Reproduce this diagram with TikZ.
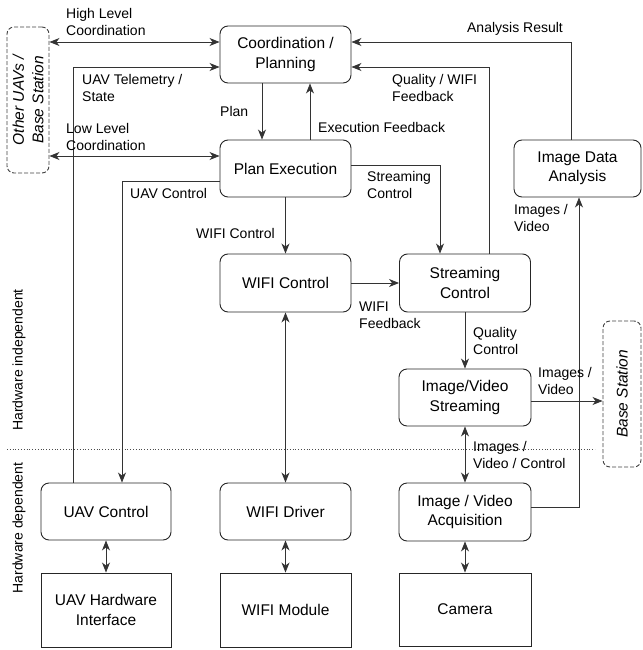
\documentclass[tikz,border=0pt]{standalone}
\usepackage{fontspec}
\setmainfont{Liberation Sans}
\usetikzlibrary{arrows.meta,calc}
\begin{document}
\begin{tikzpicture}[x=1pt,y=-1pt,
  box/.style={draw=black!85,line width=0.9pt,rounded corners=8pt,align=center,
    font=\fontsize{15.5}{19.5}\selectfont,inner sep=0pt},
  hwbox/.style={draw=black!85,line width=0.9pt,align=center,
    font=\fontsize{15.5}{19.5}\selectfont,inner sep=0pt},
  extbox/.style={draw=black!75,dash pattern=on 4pt off 2pt,line width=0.9pt,rounded corners=7pt,align=center,
    font=\fontsize{15.5}{19.5}\selectfont\itshape,inner sep=0pt},
  lbl/.style={font=\fontsize{14}{17.5}\selectfont,align=left,inner sep=0pt,anchor=west},
  conn/.style={draw=black!80,line width=0.9pt},
  arr/.style={conn,-{Stealth[length=10pt,width=8pt,inset=3pt]}},
  dbl/.style={conn,{Stealth[length=10pt,width=8pt,inset=3pt]}-{Stealth[length=10pt,width=8pt,inset=3pt]}}
]
\useasboundingbox (0,0) rectangle (642,650);

% boxes
\node[box,minimum width=131pt,minimum height=57pt] (cp) at (285.5,54.5) {Coordination /\\Planning};
\node[box,minimum width=131pt,minimum height=57pt] (pe) at (285.5,168.5) {Plan Execution};
\node[box,minimum width=127pt,minimum height=57pt] (ida) at (577.5,168.5) {Image Data\\Analysis};
\node[box,minimum width=131pt,minimum height=58pt] (wc) at (285.5,283) {WIFI Control};
\node[box,minimum width=131pt,minimum height=58pt] (sc) at (465,283) {Streaming\\Control};
\node[box,minimum width=132pt,minimum height=57pt] (ivs) at (465,397.5) {Image/Video\\Streaming};
\node[box,minimum width=132pt,minimum height=58pt] (iva) at (465,512) {Image / Video\\Acquisition};
\node[box,minimum width=130pt,minimum height=57pt] (uavc) at (106,511.5) {UAV Control};
\node[box,minimum width=131pt,minimum height=57pt] (wd) at (285.5,511.5) {WIFI Driver};
\node[hwbox,minimum width=130pt,minimum height=74pt] (uavh) at (106,610) {UAV Hardware\\Interface};
\node[hwbox,minimum width=131pt,minimum height=74pt] (wm) at (285.5,610) {WIFI Module};
\node[hwbox,minimum width=132pt,minimum height=73pt] (cam) at (465,609.5) {Camera};

% external (dashed) boxes
\node[extbox,minimum width=42pt,minimum height=146pt] (ou) at (28,100) {};
\node[font=\fontsize{15.5}{19.5}\selectfont\itshape,align=center,rotate=90,inner sep=0pt] (out) at (ou.center) {Other UAVs /\\Base Station};
\node[extbox,minimum width=38pt,minimum height=146pt] (bs) at (622,394) {};
\node[font=\fontsize{15.5}{19.5}\selectfont\itshape,rotate=90,inner sep=0pt] (bst) at (bs.center) {Base Station};

% side labels and separator
\node[font=\fontsize{14}{17}\selectfont,rotate=90,inner sep=0pt] (hwi) at (19,360) {Hardware independent};
\node[font=\fontsize{14}{17}\selectfont,rotate=90,inner sep=0pt] (hwd) at (19,528) {Hardware dependent};
\coordinate (sepl) at (7,449);
\coordinate (sepr) at (595,449);
\draw[black!70,dotted,line width=0.8pt] (sepl) -- (sepr);

% connectors
\coordinate (hl) at ([yshift=12.5pt]cp.west);
\draw[dbl] (ou.east |- hl) -- (hl);
\coordinate (tel) at ([yshift=-12.5pt]cp.west);
\draw[arr] ([xshift=-33pt]uavc.north) |- (tel);
\coordinate (ll) at ([yshift=12.5pt]pe.west);
\draw[dbl] (ou.east |- ll) -- (ll);
\draw[arr] ([yshift=-12.5pt]pe.west) -| ([xshift=16pt]uavc.north);
\draw[arr] ([xshift=-23.5pt]cp.south) -- ([xshift=-23.5pt]pe.north);
\draw[arr] ([xshift=24.5pt]pe.north) -- ([xshift=24.5pt]cp.south);
\draw[arr] ([xshift=-6.5pt]ida.north) |- ([yshift=12.5pt]cp.east);
\draw[arr] ([xshift=24pt]sc.north) |- ([yshift=-12.5pt]cp.east);
\draw[arr] ([yshift=3.5pt]pe.east) -| ([xshift=-25pt]sc.north);
\draw[arr] (pe.south) -- (wc.north);
\draw[arr] (wc.east) -- (sc.west);
\draw[arr] (sc.south) -- (ivs.north);
\coordinate (ivo) at ([yshift=-3.5pt]ivs.east);
\draw[arr] (ivo) -- (bs.west |- ivo);
\draw[dbl] (ivs.south) -- (iva.north);
\draw[arr] ([yshift=5pt]iva.west -| iva.east) -| ([xshift=1.5pt]ida.south);
\draw[dbl] (wc.south) -- (wd.north);
\draw[dbl] (uavc.south) -- (uavh.north);
\draw[dbl] (wd.south) -- (wm.north);
\draw[dbl] (iva.south) -- (cam.north);

% connector labels
\node[lbl] (l1) at (66,22) {High Level\\Coordination};
\node[lbl] (l2) at (82,88) {UAV Telemetry /\\State};
\node[lbl] (l3) at (66,137) {Low Level\\Coordination};
\node[lbl] (l4) at (130,193) {UAV Control};
\node[lbl] (l5) at (220,111) {Plan};
\node[lbl] (l6) at (318,127) {Execution Feedback};
\node[font=\fontsize{14}{17.5}\selectfont,inner sep=0pt] (l7) at (515,29) {Analysis Result};
\node[lbl] (l8) at (392,88) {Quality / WIFI\\Feedback};
\node[lbl] (l9) at (367,185) {Streaming\\Control};
\node[lbl] (l10) at (196,233) {WIFI Control};
\node[lbl] (l11) at (359,315) {WIFI\\Feedback};
\node[lbl] (l12) at (473,341) {Quality\\Control};
\node[lbl] (l13) at (538,381) {Images /\\Video};
\node[lbl] (l14) at (473,455) {Images /\\Video / Control};
\node[lbl] (l15) at (514,218) {Images /\\Video};
\end{tikzpicture}
\end{document}
